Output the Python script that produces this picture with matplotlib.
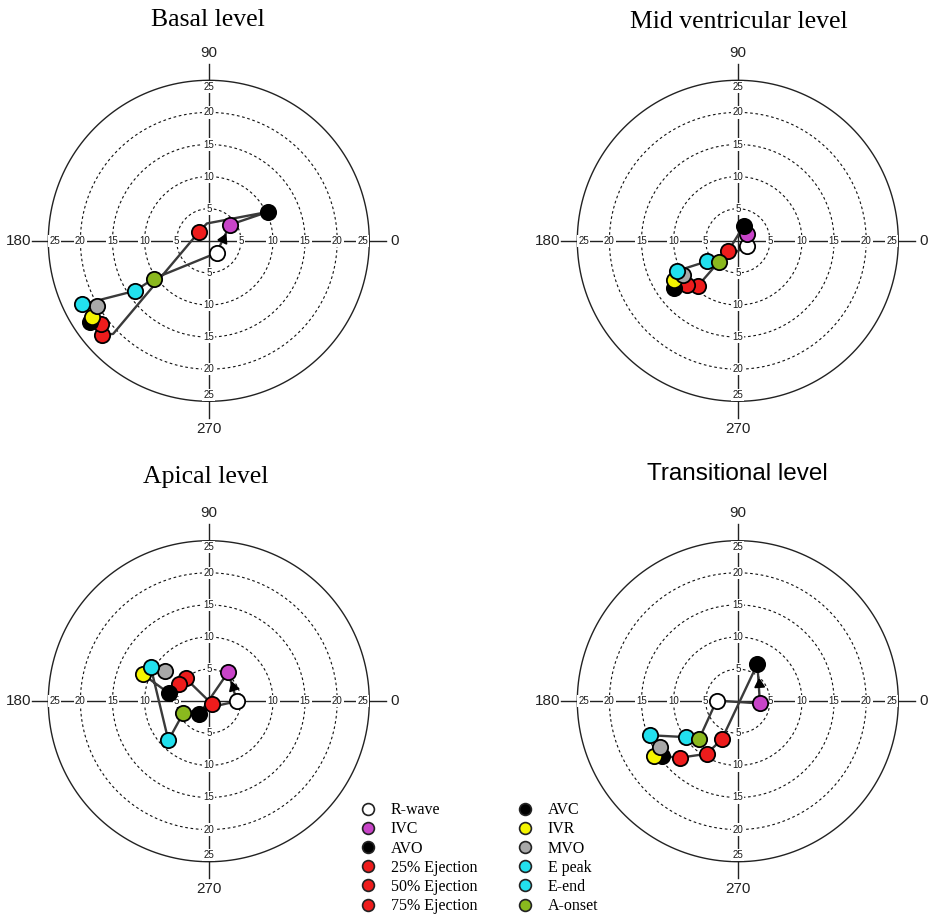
import matplotlib
matplotlib.use("Agg")
import matplotlib.pyplot as plt
from matplotlib.lines import Line2D
import numpy as np

W, H, DPI = 929, 919, 100

EVENTS = ["R-wave", "IVC", "AVO", "25% Ejection", "50% Ejection", "75% Ejection",
          "AVC", "IVR", "MVO", "E peak", "E-end", "A-onset"]
EVENT_COLORS = ["#ffffff", "#c844c8", "#000000", "#ee1c1c", "#ee1c1c", "#ee1c1c",
                "#000000", "#f5f500", "#a8a8a8", "#22e0ee", "#22e0ee", "#8ab81e"]

# event positions per level (x = cos component, y = sin component)
BASAL_X = [1.2, 3.3, 9.2, -1.6, -16.7, -16.8, -18.5, -18.2, -17.4, -19.7, -11.5, -8.6]
BASAL_Y = [-1.9, 2.5, 4.5, 1.3, -14.7, -13.0, -12.6, -11.8, -10.1, -9.9, -7.8, -5.9]
BASAL_VIA = {2: (-0.3, 2.7), 3: (-14.9, -14.5)}

MID_X = [1.4, 1.5, 0.9, -1.5, -6.2, -7.9, -10.0, -10.0, -8.6, -9.5, -4.8, -3.0]
MID_Y = [-0.8, 1.0, 2.3, -1.6, -7.0, -6.9, -7.3, -6.1, -5.3, -4.7, -3.2, -3.3]
MID_VIA = {}

APICAL_X = [4.4, 3.0, -1.5, 0.55, -3.6, -4.6, -6.15, -10.3, -6.8, -9.05, -6.3, -4.0]
APICAL_Y = [0.0, 4.5, -2.05, -0.5, 3.55, 2.65, 1.2, 4.2, 4.75, 5.35, -6.1, -1.9]
APICAL_VIA = {}

TRANS_X = [-3.3, 3.45, 3.05, -2.5, -4.85, -9.0, -11.85, -13.05, -12.1, -13.7, -8.0, -6.05]
TRANS_Y = [0.1, -0.35, 5.8, -5.95, -8.2, -8.8, -8.55, -8.55, -7.1, -5.3, -5.6, -5.95]
TRANS_VIA = {}

RINGS = [5, 10, 15, 20]
RMAX = 25
TICK_VALUES = [5, 10, 15, 20, 25]

PANELS = [
    # title, x, y, via, arrow segment, centre px, title baseline px, font
    ("Basal level", BASAL_X, BASAL_Y, BASAL_VIA, 0, (208.8, 240.8), (207.5, 25.5), "serif"),
    ("Mid ventricular level", MID_X, MID_Y, MID_VIA, None, (737.8, 240.8), (739, 27.5), "serif"),
    ("Apical level", APICAL_X, APICAL_Y, APICAL_VIA, 0, (208.8, 701.2), (206, 483), "serif"),
    ("Transitional level", TRANS_X, TRANS_Y, TRANS_VIA, 1, (737.8, 701.2), (737, 480), "sans"),
]

SERIF = "Liberation Serif"
SANS = "Liberation Sans"
PX_PER_UNIT = 6.42
HALF = 30
LINE_COLOR = "#3a3a3a"


def draw_frame(ax):
    t = np.linspace(0, 2 * np.pi, 400)
    for r in RINGS:
        ax.plot(r * np.cos(t), r * np.sin(t), color="#111111", lw=0.8,
                ls=(0, (2.4, 2.4)), zorder=1)
    ax.plot(RMAX * np.cos(t), RMAX * np.sin(t), color="#222222", lw=1.0, zorder=1)

    ext = 27.6
    ax.plot([-ext, ext], [0, 0], color="#222222", lw=1.0, zorder=1)
    ax.plot([0, 0], [-ext, ext], color="#222222", lw=1.0, zorder=1)

    box = dict(boxstyle="square,pad=0.12", facecolor="white", edgecolor="none")
    for v in TICK_VALUES:
        p = 24.0 if v == 25 else v
        for sx, sy in [(p, 0), (-p, 0), (0, p), (0, -p)]:
            ax.text(sx, sy, str(v), ha="center", va="center", fontsize=7,
                    family=SANS, color="#1a1a1a", bbox=box, zorder=2)

    ax.text(28.9, 0, "0", ha="center", va="center", fontsize=11, family=SANS, color="#222222")
    ax.text(-29.7, 0, "180", ha="center", va="center", fontsize=11, family=SANS, color="#222222")
    ax.text(0, 29.3, "90", ha="center", va="center", fontsize=11, family=SANS, color="#222222")
    ax.text(0, -29.3, "270", ha="center", va="center", fontsize=11, family=SANS, color="#222222")


def draw_loop(ax, xs, ys, via, arrow_seg):
    px, py = [], []
    n = len(xs)
    for i in range(n):
        px.append(xs[i]); py.append(ys[i])
        if i in via:
            px.append(via[i][0]); py.append(via[i][1])
    px.append(xs[0]); py.append(ys[0])
    ax.plot(px, py, color=LINE_COLOR, lw=1.7, solid_joinstyle="round", zorder=3)

    if arrow_seg is not None:
        a, b = arrow_seg, arrow_seg + 1
        mx = (xs[a] + xs[b]) / 2
        my = (ys[a] + ys[b]) / 2
        ang = np.degrees(np.arctan2(ys[b] - ys[a], xs[b] - xs[a])) - 90
        ax.plot(mx, my, marker=(3, 0, ang), ms=8, color="black", zorder=4)

    for i in range(n):
        ax.plot(xs[i], ys[i], marker="o", ms=11, mfc=EVENT_COLORS[i],
                mec="black", mew=1.3, zorder=5 + i * 0.01)


fig = plt.figure(figsize=(W / DPI, H / DPI), dpi=DPI)
side = 2 * HALF * PX_PER_UNIT

for title, xs, ys, via, arrow_seg, (cx, cy), (tx, ty), font in PANELS:
    ax = fig.add_axes([(cx - side / 2) / W, (H - cy - side / 2) / H, side / W, side / H])
    ax.set_xlim(-HALF, HALF)
    ax.set_ylim(-HALF, HALF)
    ax.set_aspect("equal")
    ax.axis("off")
    draw_frame(ax)
    draw_loop(ax, xs, ys, via, arrow_seg)
    if font == "serif":
        fig.text(tx / W, 1 - ty / H, title, ha="center", va="baseline",
                 fontsize=18.5, family=SERIF)
    else:
        fig.text(tx / W, 1 - ty / H, title, ha="center", va="baseline",
                 fontsize=17.5, family=SANS)

handles = [Line2D([], [], ls="none", marker="o", ms=8.5, mfc=c, mec="#222222", mew=1.2)
           for c in EVENT_COLORS]
fig.legend(handles, EVENTS, ncol=2, loc="upper left", bbox_to_anchor=(0.388, 0.127),
           frameon=False, prop={"family": SERIF, "size": 11.5},
           handlelength=1.0, handletextpad=0.9, columnspacing=2.5,
           labelspacing=0.2, borderpad=0, borderaxespad=0)

fig.savefig("out.png", dpi=DPI)
